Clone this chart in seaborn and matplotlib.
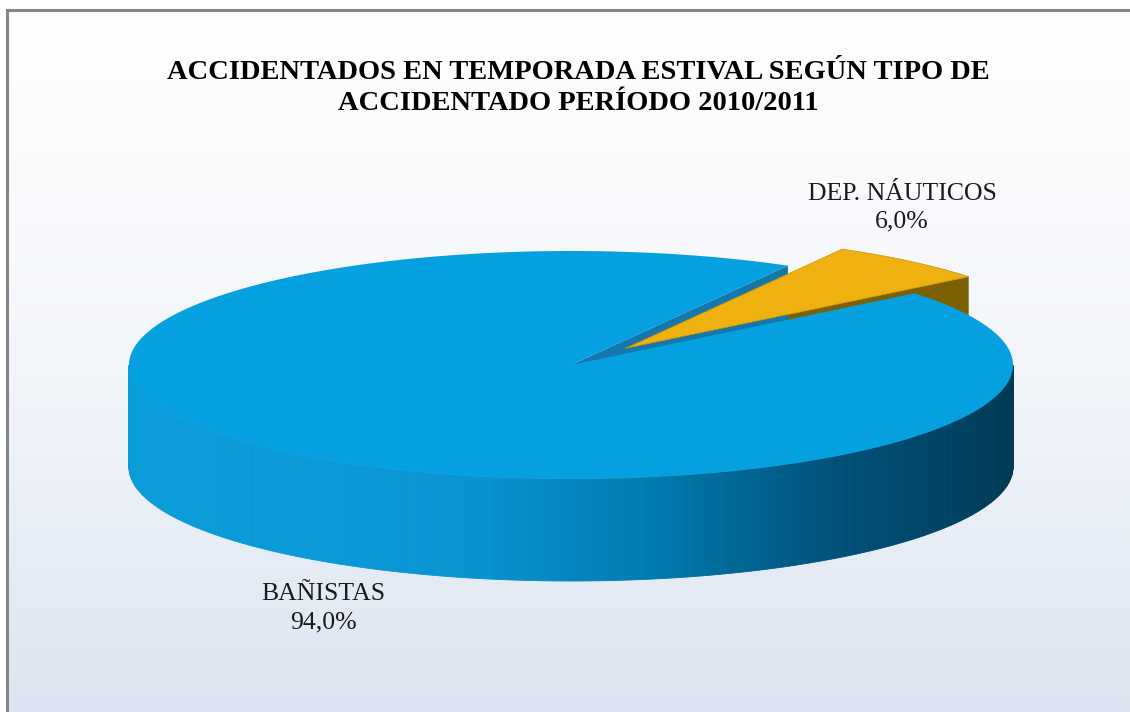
"""
3D-style pie: accidentados en temporada estival segun tipo de accidentado
"""

import numpy as np
import matplotlib
matplotlib.use("Agg")
import matplotlib.pyplot as plt
from matplotlib.patches import Polygon
import seaborn as sns

# data
categories = ["BAÑISTAS", "DEP. NÁUTICOS"]
values = [94.0, 6.0]
title = "ACCIDENTADOS EN TEMPORADA ESTIVAL SEGÚN TIPO DE\nACCIDENTADO PERÍODO 2010/2011"

sns.set_theme(style="white")
plt.rcParams["font.family"] = ["Liberation Serif", "DejaVu Serif"]

# layout (pixels)
W, H = 1130, 712
cx, cy = 571, 365
rx, ry = 442, 114
depth = 102
explode = 0.19
start_deg = 39.0  # orange slice begins here, going counter-clockwise

blue_top = "#05a0df"
blue_face = "#1677ad"
orange_top = "#efb10f"
orange_face = "#7d6000"
side_cmap = sns.blend_palette(["#0a9bd9", "#0a9ad8", "#0893d0", "#0079ac",
                               "#00517a", "#003a56"], 256, as_cmap=True)


def pt(t, dx=0.0, dy=0.0):
    return cx + rx * np.cos(t) + dx, cy - ry * np.sin(t) + dy


fig = plt.figure(figsize=(W / 100, H / 100), dpi=100)
ax = fig.add_axes([0, 0, 1, 1])
ax.set_xlim(0, W)
ax.set_ylim(H, 0)
ax.axis("off")

# background gradient and frame (only left/top edges are inside the picture)
grad = np.linspace(0, 1, 256)[:, None]
bg = sns.blend_palette(["#ffffff", "#f2f5fa", "#dbe4f1"], 256, as_cmap=True)
ax.imshow(grad, extent=[8, W + 30, H + 30, 11], cmap=bg, aspect="auto", zorder=0)
ax.plot([7, 7, W + 30], [H + 30, 10, 10], color="#858585", lw=2.2,
        solid_joinstyle="miter", zorder=1)

# slice angles from values (orange first, then blue)
frac_orange = values[1] / sum(values)
a0 = np.radians(start_deg)
a1 = a0 + 2 * np.pi * frac_orange
a2 = a0 + 2 * np.pi
mid = (a0 + a1) / 2
odx = rx * np.cos(mid) * explode
ody = -ry * np.sin(mid) * explode

# orange radial face (visible edge at a0)
ox0, oy0 = cx + odx, cy + ody
ex, ey = pt(a0, odx, ody)
ax.add_patch(Polygon([(ox0, oy0), (ex, ey), (ex, ey + depth), (ox0, oy0 + depth)],
                     closed=True, facecolor=orange_face, edgecolor="none", zorder=2))

# blue radial face at a1
bx, by = pt(a1)
ax.add_patch(Polygon([(cx, cy), (bx, by), (bx, by + depth), (cx, cy + depth)],
                     closed=True, facecolor=blue_face, edgecolor="none", zorder=3))

# blue front side wall (strips, shaded by horizontal position)
ts = np.linspace(np.pi, 2 * np.pi, 301)
for t1, t2 in zip(ts[:-1], ts[1:]):
    x1, y1 = pt(t1)
    x2, y2 = pt(t2)
    col = side_cmap(((x1 + x2) / 2 - (cx - rx)) / (2 * rx))
    ax.add_patch(Polygon([(x1, y1), (x2, y2), (x2, y2 + depth), (x1, y1 + depth)],
                         closed=True, facecolor=col, edgecolor=col, lw=0.6, zorder=4))

# blue top face
tt = np.linspace(a1, a2, 400)
xt, yt = pt(tt)
ax.add_patch(Polygon(np.column_stack([np.r_[cx, xt], np.r_[cy, yt]]), closed=True,
                     facecolor=blue_top, edgecolor="none", zorder=5))

# orange top face
to = np.linspace(a0, a1, 60)
xo, yo = pt(to, odx, ody)
ax.add_patch(Polygon(np.column_stack([np.r_[ox0, xo], np.r_[oy0, yo]]), closed=True,
                     facecolor=orange_top, edgecolor="#c99000", lw=0.5, zorder=6))

# title
ax.text(578, 88, title, ha="center", va="center", fontsize=20.5, fontweight="bold",
        color="#000000", linespacing=1.3, zorder=7)

# data labels
fmt = lambda v: f"{v:.1f}%".replace(".", ",")
ax.text(902, 208, f"{categories[1]}\n{fmt(values[1])}", ha="center", va="center",
        fontsize=18.5, color="#1a1a1a", linespacing=1.3, zorder=7)
ax.text(323, 608, f"{categories[0]}\n{fmt(values[0])}", ha="center", va="center",
        fontsize=18.5, color="#1a1a1a", linespacing=1.35, zorder=7)

fig.savefig("out.png", dpi=100)
